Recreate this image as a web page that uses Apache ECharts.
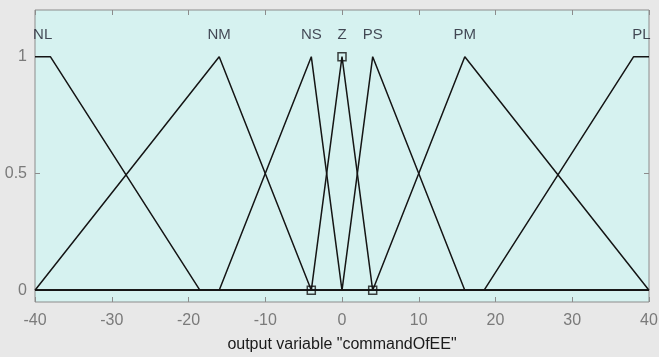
<!DOCTYPE html>
<html>
<head>
<meta charset="utf-8">
<script src="https://cdn.jsdelivr.net/npm/echarts@6/dist/echarts.min.js"></script>
<style>
html,body{margin:0;padding:0;background:#e8e8e8;}
#chart{width:659px;height:357px;}
</style>
</head>
<body>
<div id="chart"></div>
<script>
// Membership function breakpoints (x, y)
const nlX = [-40, -38, -18.5, 40];   const nlY = [1, 1, 0, 0];
const nmX = [-40, -16, -4, 40];      const nmY = [0, 1, 0, 0];
const nsX = [-40, -16, -4, 0, 40];   const nsY = [0, 0, 1, 0, 0];
const zX  = [-40, -4, 0, 4, 40];     const zY  = [0, 0, 1, 0, 0];
const psX = [-40, 0, 4, 16, 40];     const psY = [0, 0, 1, 0, 0];
const pmX = [-40, 4, 16, 40];        const pmY = [0, 0, 1, 0];
const plX = [-40, 18.5, 38, 40];     const plY = [0, 0, 1, 1];

// Selected MF (Z) vertex markers
const zMarkX = [-4, 0, 4];
const zMarkY = [0, 1, 0];

// MF names and label anchor positions
const mfNames  = ['NL', 'NM', 'NS', 'Z', 'PS', 'PM', 'PL'];
const mfLabelX = [-39, -16, -4, 0, 4, 16, 39];
const mfLabelY = 1.095;

// Ticks
const xTicks = [-40, -30, -20, -10, 0, 10, 20, 30, 40];
const yTicks = [0, 0.5, 1];
const xName = 'output variable "commandOfEE"';

const mfs = [[nlX, nlY], [nmX, nmY], [nsX, nsY], [zX, zY], [psX, psY], [pmX, pmY], [plX, plY]];
const zip = (a, b) => a.map((v, i) => [v, b[i]]);

const FONT = 'Liberation Sans';
const series = mfs.map(([xs, ys], i) => ({
  type: 'line',
  name: mfNames[i],
  data: zip(xs, ys),
  symbol: 'none',
  lineStyle: { color: '#151515', width: 1.5 },
  silent: true,
  z: 3
}));
series.push({
  type: 'scatter',
  data: zip(zMarkX, zMarkY),
  symbol: 'rect',
  symbolSize: 8,
  itemStyle: { color: 'rgba(0,0,0,0)', borderColor: '#111', borderWidth: 1.5 },
  z: 4
});
series.push({
  type: 'scatter',
  data: mfLabelX.map((x, i) => ({ value: [x, mfLabelY], name: mfNames[i] })),
  symbolSize: 0,
  label: {
    show: true, position: 'inside', formatter: p => p.name,
    color: '#1c1c2c', fontFamily: FONT, fontSize: 15
  },
  z: 5
});

const tickStyle = { color: '#8c8c8c' };
const chart = echarts.init(document.getElementById('chart'));
chart.setOption({
  animation: false,
  backgroundColor: '#e8e8e8',
  grid: {
    left: 35, right: 10, top: 10, bottom: 55,
    containLabel: false, outerBoundsMode: 'none',
    show: true, backgroundColor: '#d6f2f0',
    borderColor: '#8c8c8c', borderWidth: 1
  },
  xAxis: [{
    type: 'value', min: -40, max: 40, interval: 10, position: 'bottom',
    axisLine: { show: false, onZero: false },
    axisTick: { show: true, inside: true, length: 5, lineStyle: tickStyle, customValues: xTicks },
    axisLabel: { show: true, color: '#7a7a7a', fontFamily: FONT, fontSize: 16, margin: 11, customValues: xTicks },
    splitLine: { show: false },
    name: xName, nameLocation: 'middle', nameGap: 35,
    nameTextStyle: { color: '#1a1a1a', fontFamily: FONT, fontSize: 16 }
  }, {
    type: 'value', min: -40, max: 40, interval: 10, position: 'top',
    axisLine: { show: false, onZero: false },
    axisTick: { show: true, inside: true, length: 5, lineStyle: tickStyle, customValues: xTicks },
    axisLabel: { show: false },
    splitLine: { show: false }
  }],
  yAxis: [{
    type: 'value', min: -0.05, max: 1.2, position: 'left',
    axisLine: { show: false, onZero: false },
    axisTick: { show: true, inside: true, length: 5, lineStyle: tickStyle, customValues: yTicks },
    axisLabel: { show: true, color: '#7a7a7a', fontFamily: FONT, fontSize: 16, margin: 8, customValues: yTicks },
    splitLine: { show: false }
  }, {
    type: 'value', min: -0.05, max: 1.2, position: 'right',
    axisLine: { show: false, onZero: false },
    axisTick: { show: true, inside: true, length: 5, lineStyle: tickStyle, customValues: yTicks },
    axisLabel: { show: false },
    splitLine: { show: false }
  }],
  series: series
});
</script>
</body>
</html>
